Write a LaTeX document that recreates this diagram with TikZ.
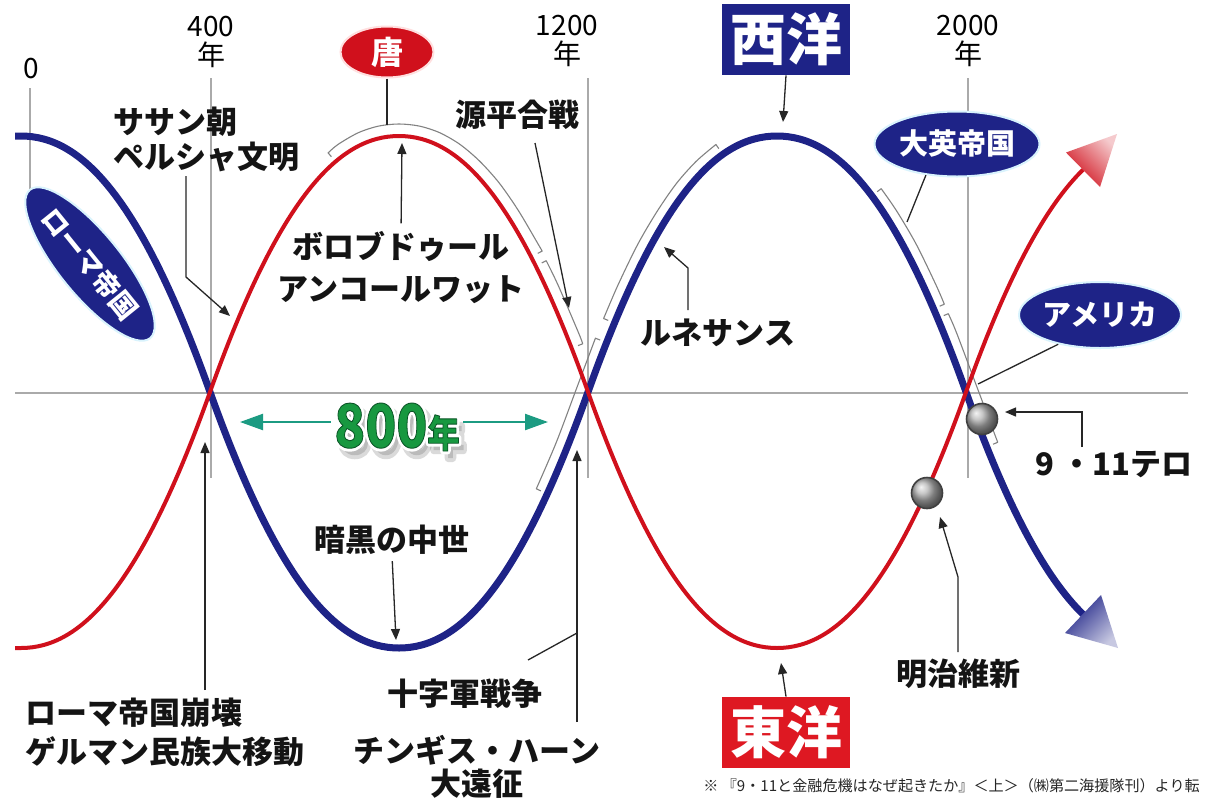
\documentclass[tikz,border=0pt]{standalone}
\usepackage{fontspec}
\usepackage{graphicx}
\newfontfamily\jp{Noto Sans CJK JP}
\usetikzlibrary{arrows.meta,shapes.geometric}
\definecolor{navy}{RGB}{30,35,135}
\definecolor{wred}{RGB}{208,16,28}
\definecolor{boxred}{RGB}{222,24,34}
\definecolor{gline}{RGB}{170,170,170}
\definecolor{brkc}{RGB}{130,130,130}
\definecolor{teal8}{RGB}{28,155,130}
\definecolor{green8}{RGB}{24,152,64}
\newcommand\eightcore{\fontsize{30}{30}\selectfont 800\fontsize{19}{19}\selectfont 年}
\newcommand\eightwith[1]{\scalebox{0.85}[1]{\special{pdf:literal direct #1}\eightcore\special{pdf:literal direct 0 Tr}}}
\begin{document}
\begin{tikzpicture}[x=0.5pt,y=-0.5pt,
  lbl/.style={font=\jp\bfseries\fontsize{15.5}{19}\selectfont, inner sep=0pt, align=center, text=black!92},
  yr/.style={font=\jp\fontsize{14}{14.5}\selectfont, inner sep=0pt, align=center},
  gridln/.style={draw=gline, line width=0.6pt},
  brk/.style={draw=brkc, line width=0.55pt, line join=round},
  ptr/.style={draw=black!85, line width=0.65pt},
  ptra/.style={ptr, -{Triangle[length=5.5pt,width=4.5pt]}},
  ovalb/.style={ellipse, fill=navy, draw=cyan!15, line width=1pt, inner sep=0pt, text=white, font=\jp\bfseries\fontsize{14.5}{16}\selectfont},
  bigbox/.style={rectangle, minimum width=64pt, minimum height=35.5pt, inner sep=0pt, text=white, font=\jp\bfseries\fontsize{28}{30}\selectfont},
  eightfont/.style={inner sep=1.5pt, font=\jp\bfseries},
  ballnode/.style={circle, minimum size=15.5pt, inner sep=0pt, ball color=gray!60, draw=black!75, line width=0.8pt},
]
\useasboundingbox (0,0) rectangle (1208,798);
\fill[white] (0,0) rectangle (1208,798);

% grid and axis
\draw[gridln, line width=0.8pt] (15,393) -- (1188,393);
\draw[gridln] (30,88) -- (30,190);
\draw[gridln] (211,78) -- (211,478);
\draw[gridln] (588,78) -- (588,478);
\draw[gridln] (968,78) -- (968,478);

% year labels
\node[yr] (y0) at (31,69) {0};
\node[yr] (y400) at (211,42) {400\\年};
\node[yr] (y1200) at (567,41) {1200\\年};
\node[yr] (y2000) at (968,41) {2000\\年};

% brackets
\draw[brk] (331.4,156.7) -- plot[smooth] coordinates {(328.1,152.9) (337.9,144.5) (358.1,132.8) (378.5,126.1) (399,124) (419.5,126.1) (439.9,132.8) (460.1,144.5) (479.7,161.2) (499.3,183.1) (518.6,210.9) (538.3,244.4) (542.2,251.1)} -- (537.7,253.4);
\draw[brk] (541.7,262.9) -- plot[smooth] coordinates {(546.2,260.7) (558.1,285.2) (578.5,332.7) (582.7,343.8)} -- (578,345.6);
\draw[brk] (540.9,490.9) -- plot[smooth] coordinates {(536.3,488.8) (556.3,442.3) (576.7,388) (595.4,338.2)} -- (600.1,340);
\draw[brk] (608.2,320.4) -- plot[smooth] coordinates {(603.6,318.5) (617.9,285.2) (637.7,244.4) (657.4,210.9) (676.7,183.1) (696.3,161.2) (715.9,144.5)} -- (718.8,148.6);
\draw[brk] (877.2,191.7) -- plot[smooth] coordinates {(881.2,188.7) (896.6,210.9) (916.3,244.4) (936.1,285.2) (944.3,304.2)} -- (939.7,306.2);
\draw[brk] (943.7,315.6) -- plot[smooth] coordinates {(948.3,313.7) (956.5,332.7) (977.3,388) (997.7,442.3)} -- (993.1,444.2);

% curves
\draw[navy, line width=3.5pt] (15,136) -- (21,136)
  .. controls (81,136) and (140,196) .. (210,392)
  .. controls (280,588) and (339,648) .. (399,648)
  .. controls (459,648) and (518,588) .. (588,392)
  .. controls (658,196) and (717,136) .. (777,136)
  .. controls (837,136) and (896,196) .. (966,392)
  .. controls (1008,509.6) and (1046.1,578.2) .. (1083,614.3);
\draw[wred, line width=2pt] (15,648) -- (21,648)
  .. controls (81,648) and (140,588) .. (210,392)
  .. controls (280,196) and (339,136) .. (399,136)
  .. controls (459,136) and (518,196) .. (588,392)
  .. controls (658,588) and (717,648) .. (777,648)
  .. controls (837,648) and (896,588) .. (966,392)
  .. controls (1008,274.4) and (1046.1,205.8) .. (1083,169.7);
\shade[top color=navy, bottom color=navy!25, shading angle=45] (1065,633) -- (1118,648) -- (1101,595) -- cycle;
\shade[top color=wred, bottom color=wred!22, shading angle=135] (1066,152.5) -- (1117,134) -- (1100,187) -- cycle;

% balls
\node[ballnode] (b911) at (982,419) {};
\node[ballnode] (bmeiji) at (927,493) {};

% labelled shapes
\node[ellipse, fill=wred, draw=pink!50, line width=1pt, minimum width=46.5pt, minimum height=25.5pt, inner sep=0pt, text=white, font=\jp\bfseries\fontsize{16}{18}\selectfont] (tang) at (387,52) {唐};
\node[bigbox, fill=navy] (seiyo) at (786,39.5) {西洋};
\node[bigbox, fill=boxred] (toyo) at (786,732.5) {東洋};
\node[ovalb, minimum width=82.5pt, minimum height=32.5pt] (daiei) at (957,144) {大英帝国};
\node[ovalb, minimum width=81pt, minimum height=33pt] (america) at (1100,315) {アメリカ};
\node[ovalb, minimum width=95pt, minimum height=31pt, rotate=-51, font=\jp\bfseries\fontsize{13.5}{15}\selectfont] (roma) at (90,264) {ローマ帝国};

% text labels
\node[lbl, anchor=west, align=left, font=\jp\bfseries\fontsize{15.5}{17.5}\selectfont] (sasan) at (113,139.5) {ササン朝\\ペルシャ文明};
\node[lbl, font=\jp\bfseries\fontsize{15.5}{21}\selectfont] (boro) at (401,268) {ボロブドゥール\\アンコールワット};
\node[lbl] (genpei) at (517,115) {源平合戦};
\node[lbl] (renai) at (718,333) {ルネサンス};
\node[lbl] (ankoku) at (392,540) {暗黒の中世};
\node[lbl, anchor=west, align=left, font=\jp\bfseries\fontsize{15.5}{19.5}\selectfont] (romafall) at (25,732.5) {ローマ帝国崩壊\\ゲルマン民族大移動};
\node[lbl] (juji) at (465,694) {十字軍戦争};
\node[lbl, font=\jp\bfseries\fontsize{15.5}{16.5}\selectfont] (chingis) at (477,766.5) {チンギス・ハーン\\大遠征};
\node[lbl] (meiji) at (958,674) {明治維新};
\node[lbl, anchor=west] (terro) at (1035,465) {9 ・11テロ};
\node[font=\jp\fontsize{7.55}{8}\selectfont, anchor=west, inner sep=0pt, text=black!85] (foot) at (703,786) {※ 『9・11と金融危機はなぜ起きたか』＜上＞（㈱第二海援隊刊）より転};

% 800 years
\node[eightfont, text=black!70, opacity=0.22] (sh800) at (402,434) {\eightwith{2 Tr 4 w 0.35 0.35 0.35 RG 1 j}};
\node[eightfont, text=white] (hw800) at (397,427) {\eightwith{2 Tr 3.4 w 1 1 1 RG 1 j}};
\node[eightfont, text=green8] (t800) at (397,427) {\eightwith{2 Tr 0.45 w 0.04 0.33 0.15 RG 1 j}};
\coordinate (l800) at (240,422);
\coordinate (r800) at (548,422);
\draw[teal8, line width=1.1pt, -{Triangle[length=11.5pt,width=8pt]}] (t800.west |- l800) -- (l800);
\draw[teal8, line width=1.1pt, -{Triangle[length=11.5pt,width=8pt]}] (t800.east |- r800) -- (r800);

% pointer coordinates
\coordinate (tangB) at (387,125);
\coordinate (seiyoT) at (783,122);
\coordinate (toyoT) at (781,663);
\coordinate (sasanS) at (186,176);
\coordinate (sasanK) at (186,277);
\coordinate (sasanT) at (230,316);
\coordinate (boroT) at (402,143);
\coordinate (genpeiS) at (535,143);
\coordinate (genpeiT) at (569,308);
\coordinate (renaiS) at (688,310);
\coordinate (renaiK) at (688,268);
\coordinate (renaiT) at (664,247);
\coordinate (daieiT) at (907,222);
\coordinate (americaT) at (978,384);
\coordinate (terroS) at (1082,447);
\coordinate (terroK) at (1082,412);
\coordinate (terroT) at (1005,412);
\coordinate (meijiS) at (958,652);
\coordinate (meijiK) at (958,577);
\coordinate (meijiT) at (940,517);
\coordinate (romaS) at (205,690);
\coordinate (romaT) at (205,442);
\coordinate (ankokuT) at (396,640);
\coordinate (chinS) at (577,722);
\coordinate (chinT) at (577,450);
\coordinate (jujiS) at (528,660);
\coordinate (jujiT) at (577,633);

% pointers
\draw[ptr] (tang.south) -- (tangB);
\draw[ptra] (seiyo.south) -- (seiyoT);
\draw[ptra] (toyo.north) -- (toyoT);
\draw[ptra] (sasanS) -- (sasanK) -- (sasanT);
\draw[ptra, shorten <=4pt] (boro.north) -- (boroT);
\draw[ptra] (genpeiS) -- (genpeiT);
\draw[ptra] (renaiS) -- (renaiK) -- (renaiT);
\draw[ptr] (daiei.225) -- (daieiT);
\draw[ptr] (america.215) -- (americaT);
\draw[ptra] (terroS) -- (terroK) -- (terroT);
\draw[ptra] (meijiS) -- (meijiK) -- (meijiT);
\draw[ptra] (romaS) -- (romaT);
\draw[ptra, shorten <=3pt] (ankoku.south) -- (ankokuT);
\draw[ptra] (chinS) -- (chinT);
\draw[ptr] (jujiS) -- (jujiT);
\end{tikzpicture}
\end{document}
